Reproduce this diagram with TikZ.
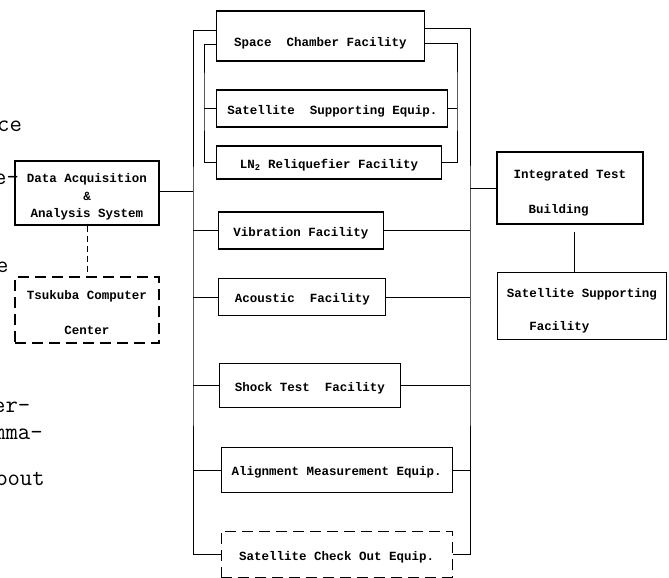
\documentclass[tikz,border=0pt]{standalone}
\usepackage{fontspec}
\newfontfamily\boxfont{Liberation Mono}
\usetikzlibrary{calc}

\newcommand{\topgap}[1]{\rule{0pt}{#1}}

\begin{document}
\begin{tikzpicture}[x=1pt, y=-1pt,
	facil/.style={draw, line width=1.1pt, inner sep=0pt, font=\boxfont\bfseries\fontsize{12.5}{15}\selectfont},
	low/.style={text height=#1},
	low/.default=14pt,
	planned/.style={facil, dash pattern=on 11pt off 6pt},
	bus/.style={line width=0.9pt},
	frag/.style={anchor=base west, inner sep=0pt, font=\ttfamily\fontsize{24}{26}\selectfont}]
	\useasboundingbox (0,0) rectangle (669,578);
	% ---- cut-off words of the running text ----
	\node[frag] (fa) at (-3,131) {ce};
	\node[frag] (fb) at (-6,184) {e-};
	\node[frag] (fc) at (-4,272) {e};
	\node[frag] (fd) at (-7,412) {er-};
	\node[frag] (fe) at (-7,439) {mma-};
	\node[frag] (ff) at (-5,485) {bout};
	% ---- data side ----
	\node[facil, minimum width=144, minimum height=64, align=center] (daq) at (87,193) {\topgap{17pt}Data Acquisition\\[2.5pt]\&\\[2.5pt]Analysis System};
	\node[planned, minimum width=144, minimum height=66, align=center] (tsu) at (87,310) {\topgap{15pt}Tsukuba Computer\\[20pt]Center};
	\draw[bus, dash pattern=on 6pt off 4pt] (daq.south) -- (tsu.north);
	% ---- facilities ----
	\node[facil, low=24pt, minimum width=208, minimum height=50] (space) at (320.5,36) {Space~~Chamber Facility};
	\node[facil, low, minimum width=231, minimum height=37] (sats) at (332.3,108.5) {Satellite~~Supporting Equip.};
	\node[facil, low, minimum width=225, minimum height=33] (liq) at (329,162.5) {LN\textsubscript{2} Reliquefier Facility};
	\node[facil, low, minimum width=165, minimum height=37] (vib) at (301,230.5) {Vibration Facility};
	\node[facil, low, minimum width=167, minimum height=37] (acou) at (302.4,297) {Acoustic~~Facility};
	\node[facil, low, minimum width=181, minimum height=44] (shock) at (310,385.6) {Shock Test~~Facility};
	\node[facil, low, minimum width=231, minimum height=45] (align) at (336.6,470.3) {Alignment Measurement Equip.};
	\node[planned, low=16pt, minimum width=231, minimum height=46] (check) at (336.6,554.2) {Satellite Check Out Equip.};
	% ---- building side ----
	\node[facil, minimum width=146, minimum height=72, align=left] (itb) at (570,188) {\topgap{19pt}Integrated Test\\[20pt]~~Building};
	\node[facil, minimum width=169, minimum height=67, align=left] (ssf) at (582,306) {\topgap{19pt}Satellite Supporting\\[18pt]~~~Facility};
	% ---- bus lines ----
	\coordinate (lbus) at (193,300);
	\coordinate (ilbus) at (204,100);
	\coordinate (irbus) at (457,100);
	\coordinate (rbus) at (470,300);
	\draw[bus] ([yshift=6pt]space.west) -| (lbus) |- (check.west);
	\draw[bus] ([yshift=-8pt]space.west) -| (ilbus) |- (liq.west);
	\draw[bus] (sats.west) -- (sats.west -| ilbus);
	\draw[bus] ([yshift=8pt]space.east) -| (rbus) |- (check.east);
	\draw[bus] ([yshift=-7.5pt]space.east) -| (irbus) |- (liq.east);
	\draw[bus] (sats.east) -- (sats.east -| irbus);
	\foreach \n in {vib,acou,shock,align}{
		\draw[bus] (\n.west) -- (\n.west -| lbus);
		\draw[bus] (\n.east) -- (\n.east -| rbus);
	}
	\draw[bus] ([yshift=2pt]daq.east) -- ([yshift=2pt]daq.east -| lbus);
	\draw[bus] (itb.west) -- (itb.west -| rbus);
	\draw[line width=0.7pt] ([xshift=4.6pt,yshift=-7pt]itb.south) -- ([xshift=4.6pt]itb.south |- ssf.north);
\end{tikzpicture}
\end{document}
